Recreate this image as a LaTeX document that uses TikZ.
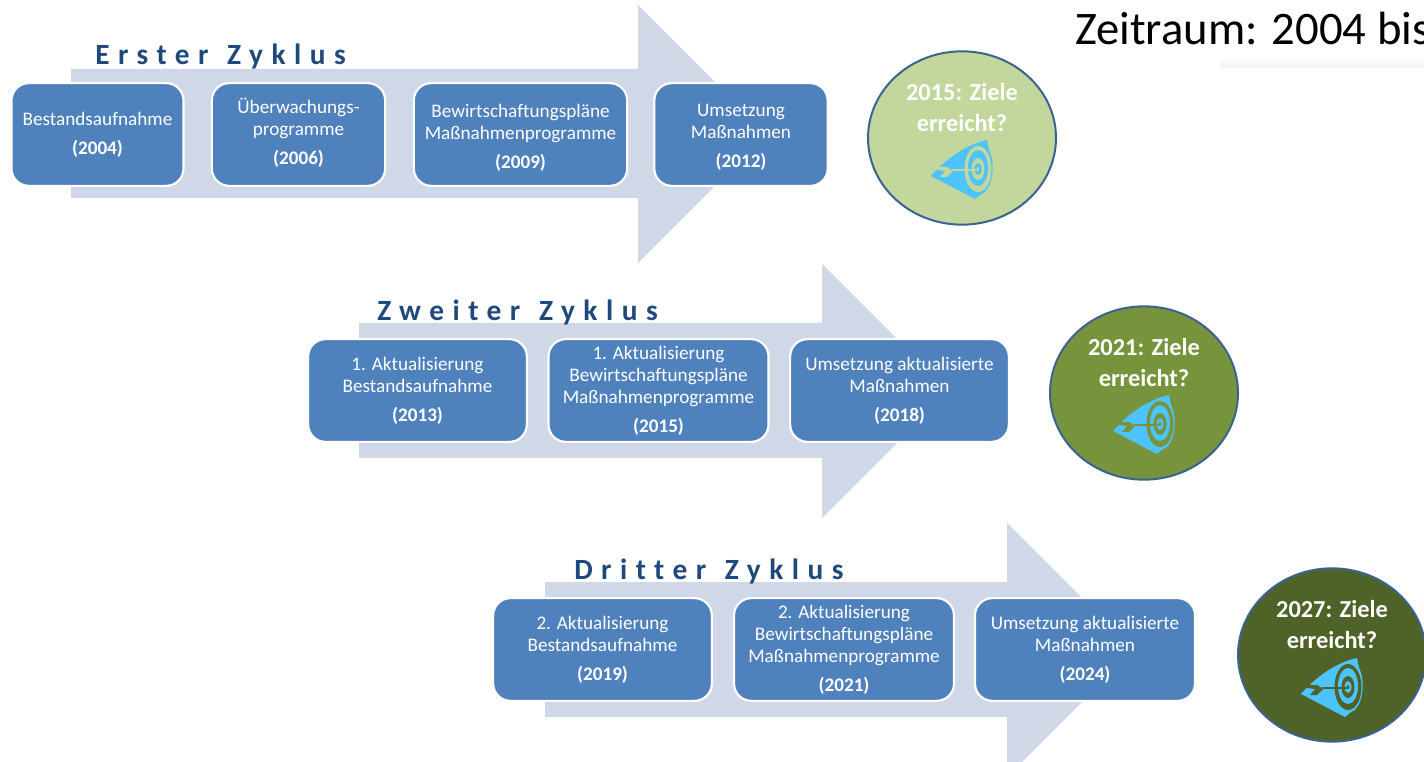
\documentclass[tikz,border=0pt]{standalone}
\usepackage{fontspec}
\setmainfont[Ligatures=NoCommon]{Carlito}
\usetikzlibrary{shapes.geometric,positioning}

\definecolor{zyklusblue}{HTML}{4F81BD}
\definecolor{pfeilgrey}{HTML}{D0D8E8}
\definecolor{titelblue}{HTML}{1F497D}
\definecolor{randblue}{HTML}{3A6293}
\definecolor{zielcyan}{HTML}{4DC3FF}
\definecolor{ziellight}{HTML}{C3D69B}
\definecolor{zielmid}{HTML}{77933C}
\definecolor{zieldark}{HTML}{4F6228}

\tikzset{
  zielicon/.pic={
    \fill[zielcyan] (-47,7) .. controls (-34,-8) and (-14,-24) .. (9,-29) -- (11,-19)
      .. controls (16,-10) and (17,12) .. (7,23) -- (3,25) -- (-3,30) -- cycle;
    \fill[bg] (0,0) ellipse [x radius=13.5, y radius=23];
    \fill[zielcyan] (0,-1) ellipse [x radius=10, y radius=18];
    \fill[bg] (0,0) ellipse [x radius=6.5, y radius=11];
    \fill[zielcyan] (0,0) ellipse [x radius=3.5, y radius=6];
    \fill[bg] (0,0) ellipse [x radius=1.2, y radius=2];
    \draw[bg, line width=.9pt] (-26,1) -- (0,1);
    \fill[bg] (-41,-2) -- (-31,-2) -- (-25,2) -- (-31,8) -- (-38,8) -- (-33,2) -- (-41,1) -- cycle;
  }
}

\begin{document}
\begin{tikzpicture}[x=.75pt, y=-.75pt, node distance = 28*.75pt]
  % Stile
  \tikzstyle{phase} = [rectangle, draw=white, line width=1.6pt, fill=zyklusblue, text=white,
    rounded corners=13pt, minimum height=77pt, align=center, inner sep=0pt, font=\fontsize{14.4}{16.5}\selectfont]
  \tikzstyle{pfeil} = [fill=pfeilgrey]
  \tikzstyle{titel} = [anchor=base west, text=titelblue, inner sep=0pt,
    font=\fontsize{22}{24}\bfseries\addfontfeature{LetterSpace=29}\selectfont]
  \tikzstyle{ziel} = [ellipse, draw=randblue, line width=1.5pt, minimum width=141pt, minimum height=130pt,
    inner sep=0pt, text=white, align=center, text depth=46pt, font=\fontsize{18.3}{23}\bfseries\selectfont]

  \useasboundingbox (0,0) rectangle (1424,762);
  \begin{scope}
    \clip (0,0) rectangle (1424,762);

    % Pfeile
    \fill[pfeil] (71,69) -- (638,69) -- (638,5) -- (767,134) -- (638,263) -- (638,198) -- (71,198) -- cycle;
    \fill[pfeil] (359,323) -- (822,323) -- (822,264) -- (949,391) -- (822,518) -- (822,458) -- (359,458) -- cycle;
    \fill[pfeil] (545,582) -- (1007,582) -- (1007,523) -- (1134,650) -- (1007,777) -- (1007,717) -- (545,717) -- cycle;

    % Erster Zyklus
    \node [titel] (titeleins) at (95,65) {Erster\hspace{14pt}Zyklus};
    \node [phase, minimum width=129pt] (bestand) at (97.5,134.5) {Bestandsaufnahme\\[5.5pt]\textbf{(2004)}};
    \node [phase, minimum width=130pt, text depth=5pt] (monitoring) at (298.5,134.5) {Überwachungs-\\programme\\[5.5pt]\textbf{(2006)}};
    \node [phase, minimum width=160pt, text height=53pt] (plaene) at (520.5,134.5) {Bewirtschaftungspläne\\Maßnahmenprogramme\\[5.5pt]\textbf{(2009)}};
    \node [phase, minimum width=130pt, text height=51.5pt] (umsetzung) at (741,134.5) {Umsetzung\\Maßnahmen\\[5.5pt]\textbf{(2012)}};
    \node [ziel, fill=ziellight] (zieleins) at (962,138) {2015: Ziele\\erreicht?};

    % Zweiter Zyklus
    \node [titel] (titelzwei) at (377,321) {Zweiter\hspace{14pt}Zyklus};
    \node [phase, minimum width=164pt] (bestandzwei) at (417.5,390.5) {1. Aktualisierung\\Bestandsaufnahme\\[5.5pt]\textbf{(2013)}};
    \node [phase, minimum width=165pt] (plaenezwei) at (658.5,390.5) {1. Aktualisierung\\Bewirtschaftungspläne\\Maßnahmenprogramme\\[5.5pt]\textbf{(2015)}};
    \node [phase, minimum width=164pt] (umsetzungzwei) at (899.5,390.5) {Umsetzung aktualisierte\\Maßnahmen\\[5.5pt]\textbf{(2018)}};
    \node [ziel, fill=zielmid] (zielzwei) at (1144,393) {2021: Ziele\\erreicht?};

    % Dritter Zyklus
    \node [titel] (titeldrei) at (574,579) {Dritter\hspace{14pt}Zyklus};
    \node [phase, minimum width=164pt] (bestanddrei) at (602.5,649.5) {2. Aktualisierung\\Bestandsaufnahme\\[5.5pt]\textbf{(2019)}};
    \node [phase, minimum width=165pt] (plaenedrei) at (844,649.5) {2. Aktualisierung\\Bewirtschaftungspläne\\Maßnahmenprogramme\\[5.5pt]\textbf{(2021)}};
    \node [phase, minimum width=165pt] (umsetzungdrei) at (1085,649.5) {Umsetzung aktualisierte\\Maßnahmen\\[5.5pt]\textbf{(2024)}};
    \node [ziel, fill=zieldark] (zieldrei) at (1332,655) {2027: Ziele\\erreicht?};

    % Zielscheiben
    \colorlet{bg}{ziellight}
    \pic at (978,169) {zielicon};
    \colorlet{bg}{zielmid}
    \pic at (1160,424) {zielicon};
    \colorlet{bg}{zieldark}
    \pic at (1348,687) {zielicon};

    % Zeitraum
    \shade[top color=white, bottom color=black!5] (1220,56) rectangle (1424,68);
    \node [anchor=base west, inner sep=0pt, font=\fontsize{35}{40}\selectfont] (zeitraum) at (1075,45) {Zeitraum: 2004 bis};
  \end{scope}
\end{tikzpicture}
\end{document}
